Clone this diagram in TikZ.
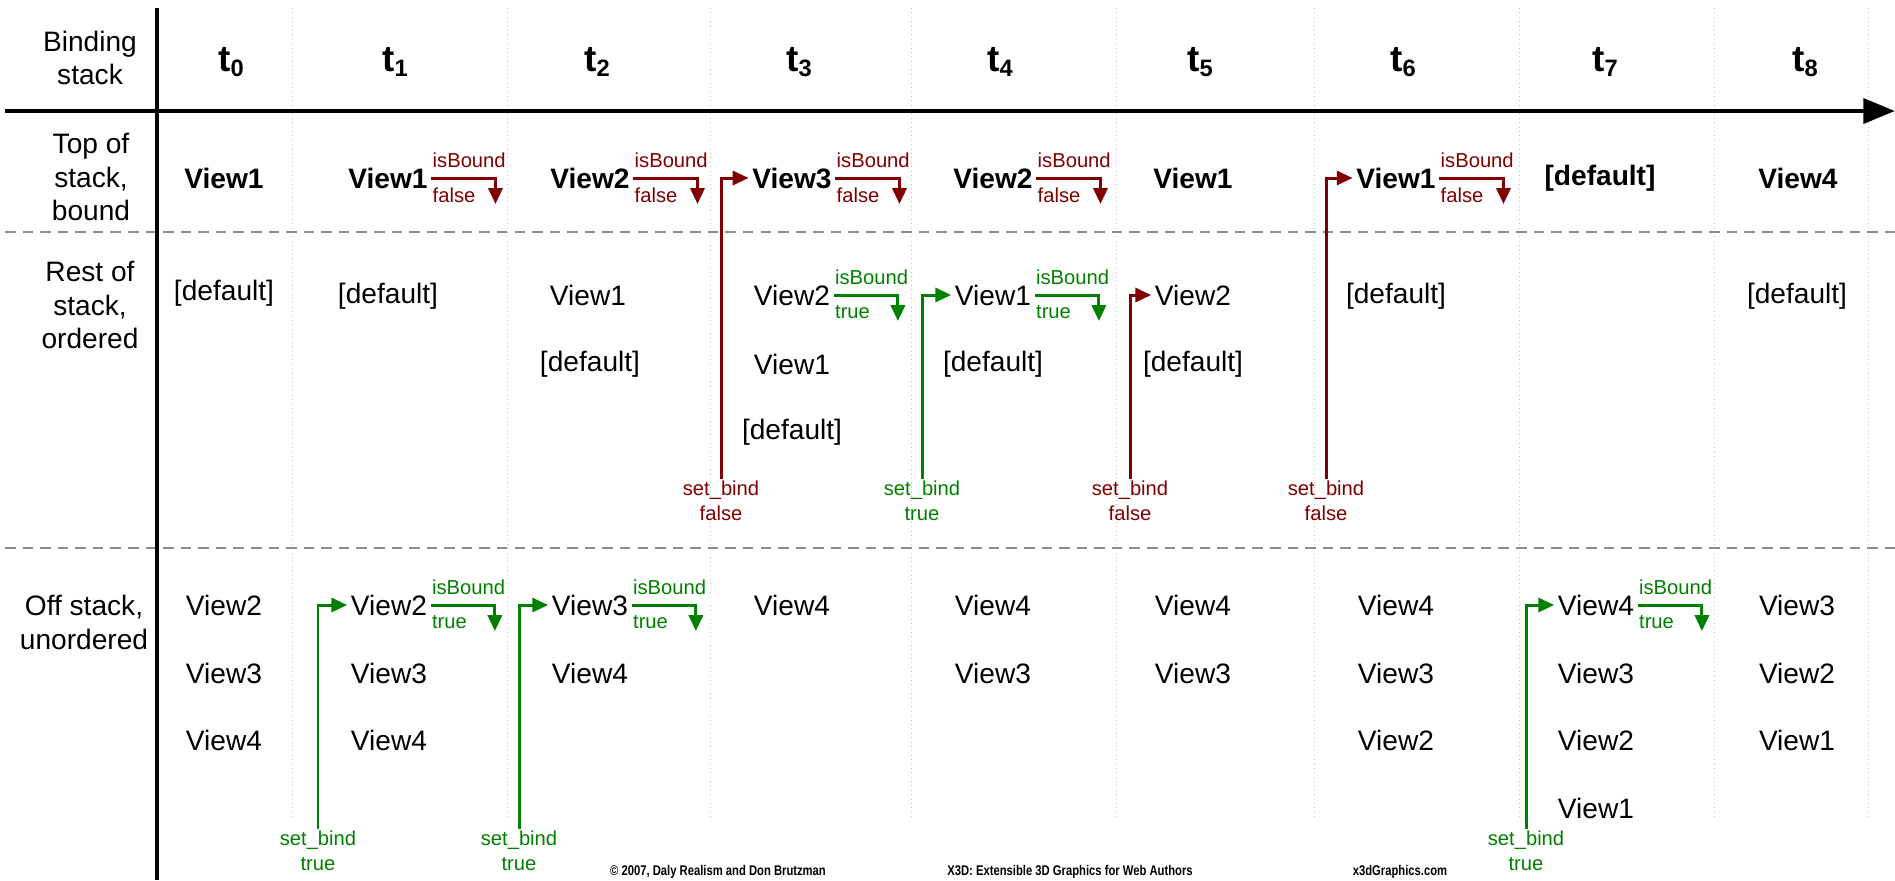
\documentclass[tikz,border=0pt]{standalone}
\usepackage{fontspec}
\setmainfont{Liberation Sans}
\newfontfamily\narrowfont[FakeStretch=0.8]{Liberation Sans}
\usetikzlibrary{arrows.meta}

\definecolor{falsered}{RGB}{128,0,0}
\definecolor{truegreen}{RGB}{0,128,0}

\tikzset{
  view/.style={font=\fontsize{16}{19}\selectfont,inner sep=2pt},
  topview/.style={view,font=\bfseries\fontsize{16}{19}\selectfont},
  rowlabel/.style={align=center,font=\fontsize{16}{19.3}\selectfont},
  tick/.style={font=\bfseries\fontsize{21}{22}\selectfont},
  event/.style={font=\fontsize{11.5}{14}\selectfont,inner sep=0.5pt},
  setbind/.style={event,align=center,anchor=north,inner sep=1pt},
  flow/.style={line width=1.7pt,-{Triangle[length=9pt,width=8pt]}},
  footer/.style={font=\narrowfont\bfseries\fontsize{8}{9}\selectfont},
}
% time label t_i
\newcommand{\tstep}[1]{t\raisebox{-2.8pt}{\fontsize{13.5}{14}\selectfont#1}}
% isBound event leaving a view: node, colour, value
\newcommand{\isbound}[3]{%
  \draw[flow,#2] (#1.east) -- ++(64,0) -- ++(0,26);
  \node[event,text=#2,anchor=south west,yshift=5pt] (#1-ib) at (#1.east) {isBound};
  \node[event,text=#2,anchor=north west,yshift=-5pt] (#1-val) at (#1.east) {#3};
}

\begin{document}
\begin{tikzpicture}[x=0.02cm,y=-0.02cm]
\useasboundingbox (0,0) rectangle (1895,880);

% grid
\foreach \x in {292,507,710,911,1116,1314,1519,1714,1868}
  \draw[black!25,line width=0.5pt,dotted] (\x,8) -- (\x,820);
\foreach \y in {232,548}
  \draw[black!45,line width=1pt,dash pattern=on 6pt off 4pt] (5,\y) -- (1895,\y);
\draw[line width=2.8pt] (157,8) -- (157,880);
\draw[line width=2.8pt,-{Triangle[length=18pt,width=14pt]}] (5,111) -- (1895,111);

% row headings
\node[rowlabel,font=\fontsize{16}{18.7}\selectfont] (head) at (90,58) {Binding\\stack};
\node[rowlabel] (toplab) at (91,177) {Top of\\stack,\\bound};
\node[rowlabel] (restlab) at (90,305) {Rest of\\stack,\\ordered};
\node[rowlabel] (offlab) at (84,622) {Off stack,\\unordered};

% time steps
\foreach \i/\x in {0/231,1/395,2/597,3/799,4/1000,5/1200,6/1403,7/1605,8/1805}
  \node[tick] (t\i) at (\x,62) {\tstep{\i}};

% top of stack, bound
\foreach \i/\x/\v in {0/224/View1,1/388/View1,2/590/View2,3/792/View3,4/993/View2,
    5/1193/View1,6/1396/View1,7/1600/{[default]},8/1798/View4}
  \node[topview] (top\i) at (\x,178) {\v};

% rest of stack, ordered
\foreach \n/\x/\y/\v in {r0a/224/293/{[default]},r1a/388/296/{[default]},
    r2a/588/295/View1,r2b/590/364/{[default]},
    r3a/792/295/View2,r3b/792/364/View1,r3c/792/432/{[default]},
    r4a/993/295/View1,r4b/993/364/{[default]},
    r5a/1193/295/View2,r5b/1193/364/{[default]},
    r6a/1396/296/{[default]},r8a/1797/296/{[default]}}
  \node[view] (\n) at (\x,\y) {\v};

% off stack, unordered
\foreach \n/\x/\y/\v in {o0a/224/605/View2,o0b/224/673/View3,o0c/224/740/View4,
    o1a/389/605/View2,o1b/389/673/View3,o1c/389/740/View4,
    o2a/590/605/View3,o2b/590/673/View4,
    o3a/792/605/View4,
    o4a/993/605/View4,o4b/993/673/View3,
    o5a/1193/605/View4,o5b/1193/673/View3,
    o6a/1396/605/View4,o6b/1396/673/View3,o6c/1396/740/View2,
    o7a/1596/605/View4,o7b/1596/673/View3,o7c/1596/740/View2,o7d/1596/808/View1,
    o8a/1797/605/View3,o8b/1797/673/View2,o8c/1797/740/View1}
  \node[view] (\n) at (\x,\y) {\v};

% isBound events
\foreach \n/\clr/\val in {top1/falsered/false,top2/falsered/false,top3/falsered/false,
    top4/falsered/false,top6/falsered/false,r3a/truegreen/true,r4a/truegreen/true,
    o1a/truegreen/true,o2a/truegreen/true,o7a/truegreen/true}
  {\isbound{\n}{\clr}{\val}}

% set_bind events
\foreach \n/\x/\y/\clr/\val in {sb1/318/829/truegreen/true,sb2/519/829/truegreen/true,
    sb3/721/479/falsered/false,sb4/922/479/truegreen/true,sb5/1130/479/falsered/false,
    sb6/1326/479/falsered/false,sb7/1526/829/truegreen/true}
  \node[setbind,text=\clr] (\n) at (\x,\y) {set\_bind\\\val};
\draw[flow,truegreen] (sb1.north) |- (o1a.west);
\draw[flow,truegreen] (sb2.north) |- (o2a.west);
\draw[flow,falsered] (sb3.north) |- (top3.west);
\draw[flow,truegreen] (sb4.north) |- (r4a.west);
\draw[flow,falsered] (sb5.north) |- (r5a.west);
\draw[flow,falsered] (sb6.north) |- (top6.west);
\draw[flow,truegreen] (sb7.north) |- (o7a.west);

% credits
\node[footer] (copy) at (718,872) {© 2007, Daly Realism and Don Brutzman};
\node[footer] (book) at (1070,872) {X3D: Extensible 3D Graphics for Web Authors};
\node[footer] (site) at (1400,872) {x3dGraphics.com};
\end{tikzpicture}
\end{document}
